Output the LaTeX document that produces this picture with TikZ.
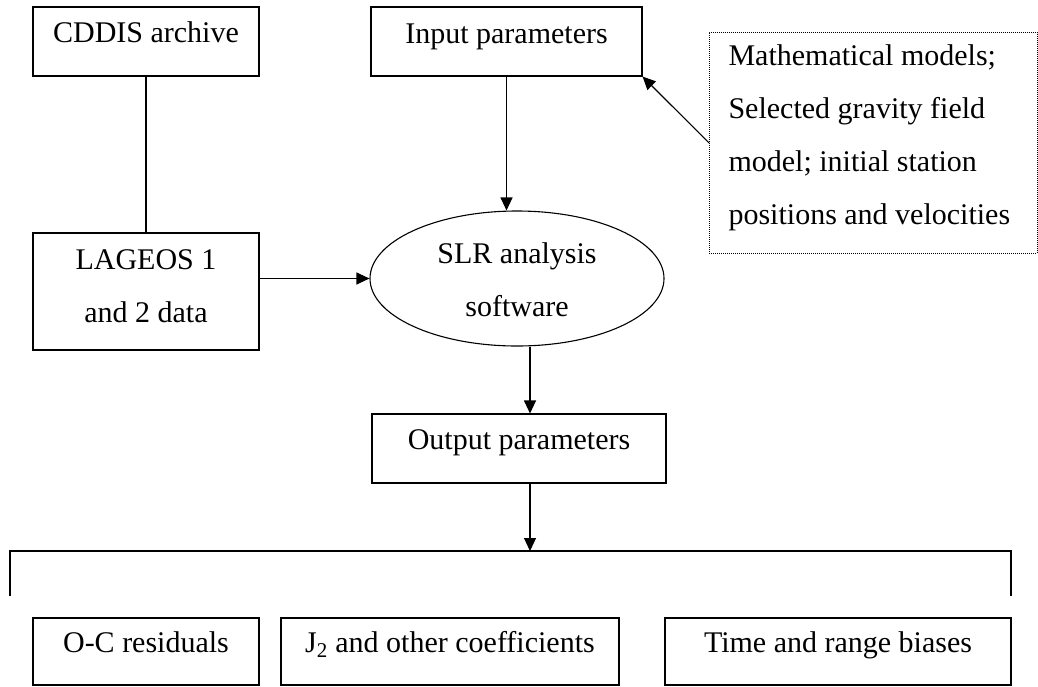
\documentclass[tikz,border=0pt]{standalone}
\usepackage{fontspec}
\setmainfont{Liberation Serif}
\usetikzlibrary{arrows.meta,shapes.geometric}
\begin{document}
\begin{tikzpicture}[x=1pt,y=-1pt,line width=1.1pt,
  txt/.style={font=\fontsize{30}{53}\selectfont},
  box/.style={draw,rectangle,inner sep=0pt,anchor=base,txt},
  arr/.style={-{Triangle[length=13pt,width=12pt]}},
  dotbox/.style={draw,dash pattern=on 1pt off 1pt,line width=0.9pt,rectangle,inner sep=0pt}
]
\useasboundingbox (0,0) rectangle (1038,686);

\node[box,minimum width=226pt,text height=35pt,text depth=34pt] (cddis) at (146,42) {CDDIS archive};
\node[box,minimum width=271pt,text height=36pt,text depth=33pt] (inp) at (506.5,43) {Input parameters};

\node[dotbox,anchor=north west,minimum width=328pt,minimum height=221pt] (mm) at (709,32) {};
\node[txt,anchor=base west,inner sep=0pt] (mmtext) at (728,65)
  {\begin{tabular}[t]{@{}l@{}}Mathematical models;\\Selected gravity field\\model; initial station\\positions and velocities\end{tabular}};

\node[box,minimum width=226pt,text height=36pt,text depth=81pt] (lag) at (146,269)
  {\begin{tabular}[t]{@{}c@{}}LAGEOS 1\\and 2 data\end{tabular}};

\node[draw,ellipse,minimum width=294pt,minimum height=135pt,inner sep=0pt,txt,text height=20pt,text depth=51pt] (slr) at (517,278.5)
  {\begin{tabular}[t]{@{}c@{}}SLR analysis\\software\end{tabular}};

\node[box,minimum width=294pt,text height=35pt,text depth=34pt] (outp) at (519,449) {Output parameters};

\node[box,minimum width=226pt,text height=34pt,text depth=33pt] (oc) at (146,652) {O-C residuals};
\node[box,minimum width=338pt,text height=34pt,text depth=33pt] (j2) at (450,652) {J\textsubscript{2} and other coefficients};
\node[box,minimum width=346pt,text height=34pt,text depth=33pt] (tr) at (838,652) {Time and range biases};

\coordinate (x530) at (530,0);
\coordinate (bl) at (10,551);
\coordinate (br) at (1011,551);
\coordinate (blt) at (10,596);
\coordinate (brt) at (1011,596);

\draw (cddis.south) -- (lag.north);
\draw[arr] (inp.south) -- (inp.south |- slr.north);
\draw[arr] (mm.west) -- (inp.south east);
\draw[arr] (lag.east |- slr.west) -- (slr.west);
\draw[arr] (slr.south -| x530) -- (outp.north -| x530);
\draw[arr] (outp.south -| x530) -- (bl -| x530);
\draw (blt) -- (bl) -- (br) -- (brt);
\end{tikzpicture}
\end{document}
